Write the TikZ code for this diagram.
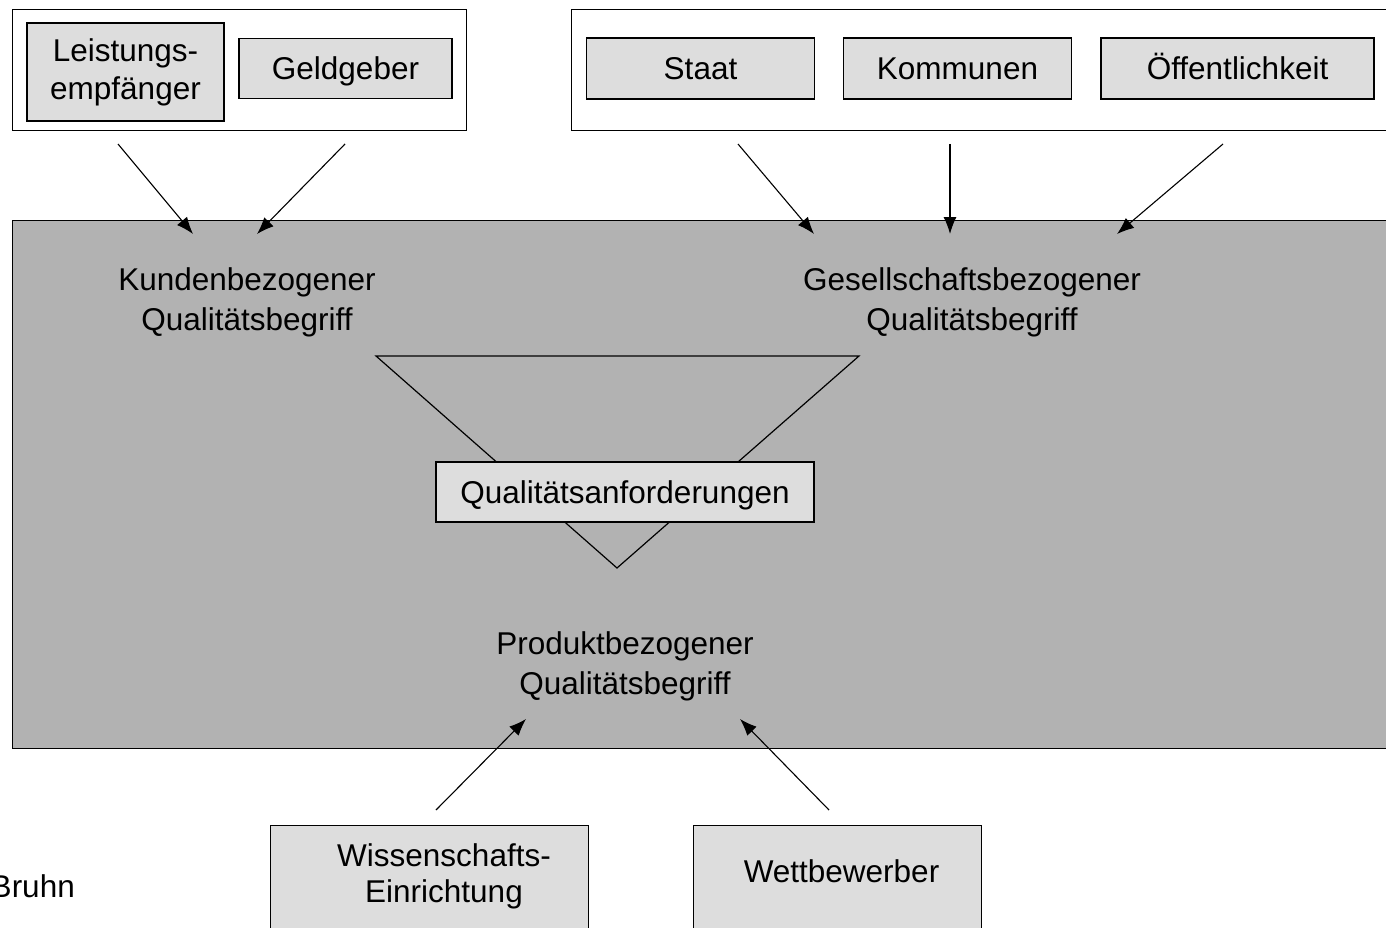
\documentclass[tikz,border=0pt]{standalone}
\usepackage{fontspec}
\setmainfont{Liberation Sans}
\usetikzlibrary{arrows.meta}
\definecolor{boxfill}{HTML}{DDDDDD}
\definecolor{corefill}{HTML}{B2B2B2}
\begin{document}
\begin{tikzpicture}[x=1pt,y=-1pt,
  every node/.style={font=\fontsize{31.5}{40}\selectfont, inner sep=0pt},
  frame/.style={draw=black, line width=1.3pt, fill=white},
  actor/.style={draw=black, line width=1.3pt, fill=boxfill, text height=22.6pt, text depth=0pt},
  actorml/.style={draw=black, line width=1.3pt, fill=boxfill, align=center},
  core/.style={draw=black, line width=1.3pt, fill=corefill},
  lbl/.style={align=center},
  flow/.style={line width=1.1pt, -{Latex[length=17pt,width=13pt]}}
]
\useasboundingbox (0,0) rectangle (1386,928);
\clip (0,0) rectangle (1386,928);

% top groups
\node[frame, anchor=north west, minimum width=454, minimum height=121] (grpA) at (12,9) {};
\node[frame, anchor=north west, minimum width=830, minimum height=121] (grpB) at (571,9) {};
\node[actorml, minimum width=197, minimum height=98, font=\fontsize{31.5}{38}\selectfont] (leist) at (125.5,72) {Leistungs-\\empfänger};
\node[actor, minimum width=213, minimum height=60] (geld) at (345.5,68.5) {Geldgeber};
\node[actor, minimum width=228, minimum height=61] (staat) at (700.5,68.5) {Staat};
\node[actor, minimum width=228, minimum height=61] (komm) at (957.5,68.5) {Kommunen};
\node[actor, minimum width=273, minimum height=61] (oeff) at (1237.5,68.5) {Öffentlichkeit};

% core area
\node[core, anchor=north west, minimum width=1400, minimum height=528] (core) at (12,220) {};
\node[lbl] (kunde) at (247,302) {Kundenbezogener\\Qualitätsbegriff};
\node[lbl] (gesell) at (972,302) {Gesellschaftsbezogener\\Qualitätsbegriff};
\node[lbl] (produkt) at (625,666) {Produktbezogener\\Qualitätsbegriff};

% funnel
\coordinate (fl) at (376,356);
\coordinate (fr) at (859,356);
\coordinate (fb) at (617,568);
\draw[line width=1.2pt] (fl) -- (fr) -- (fb) -- cycle;
\node[actor, minimum width=378, minimum height=60] (anf) at (625,492) {Qualitätsanforderungen};

% bottom actors
\node[actor, anchor=north west, minimum width=318, minimum height=140] (wiss) at (270,825) {};
\node[lbl, font=\fontsize{31.5}{36}\selectfont] (wisstxt) at (444,876) {Wissenschafts-\\Einrichtung};
\node[actor, anchor=north west, minimum width=288, minimum height=140] (wett) at (693,825) {};
\node[text height=22.6pt, text depth=0pt] (wetttxt) at (841.5,871) {Wettbewerber};
\node[anchor=base east] (bruhn) at (75,897) {Bruhn};

% arrow ends
\coordinate (a1s) at (118,144);  \coordinate (a1e) at (193,234);
\coordinate (a2s) at (345,144);  \coordinate (a2e) at (257,234);
\coordinate (a3s) at (738,144);  \coordinate (a3e) at (814,234);
\coordinate (a4s) at (950,144);  \coordinate (a4e) at (950,234);
\coordinate (a5s) at (1223,144); \coordinate (a5e) at (1117,234);
\coordinate (b1s) at (436,810);  \coordinate (b1e) at (526,719);
\coordinate (b2s) at (829,810);  \coordinate (b2e) at (740,719);

\draw[flow] (a1s) -- (a1e);
\draw[flow] (a2s) -- (a2e);
\draw[flow] (a3s) -- (a3e);
\draw[flow] (a4s) -- (a4e);
\draw[flow] (a5s) -- (a5e);
\draw[flow] (b1s) -- (b1e);
\draw[flow] (b2s) -- (b2e);
\end{tikzpicture}
\end{document}
